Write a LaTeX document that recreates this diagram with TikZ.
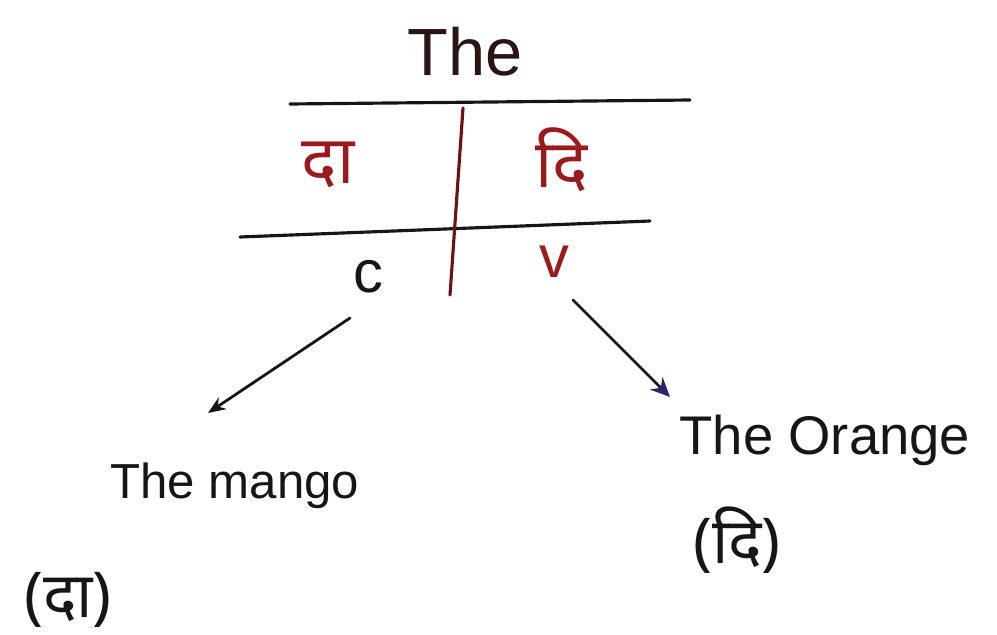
\documentclass[tikz,border=0pt]{standalone}
\usepackage{fontspec}
\setmainfont{Liberation Sans}
\newfontfamily\devfont[Script=Devanagari]{Noto Sans}
\usetikzlibrary{positioning, arrows.meta}
\definecolor{inkred}{HTML}{9A1B1E}
\definecolor{inkdark}{HTML}{2A1414}
\definecolor{inkblack}{HTML}{161616}
\definecolor{inknavy}{HTML}{2B2468}

\begin{document}
\begin{tikzpicture}[x=0.02cm, y=-0.02cm, >=Stealth,
        rule/.style={draw=inkblack, line width=1.8pt, line cap=round},
        hdr/.style={font=\fontsize{38}{42}\selectfont, text=inkdark, inner sep=0},
        dev/.style={font=\devfont\fontsize{38}{42}\selectfont, text=inkred, inner sep=0},
        sym/.style={font=\fontsize{34}{38}\selectfont, inner sep=0},
        lbl/.style={font=\fontsize{28}{32}\selectfont, text=inkblack, inner sep=0},
        devlbl/.style={font=\devfont\fontsize{36}{40}\selectfont, text=inkblack, inner sep=0},
        ptr/.style={->, draw=inkblack, line width=1.6pt, line cap=round}]
        \useasboundingbox (0,0) rectangle (997,635);
        % heading and table
        \node[hdr] (The) at (465,52) {The};
        \coordinate (T1) at (290,104);
        \coordinate (T2) at (690,100);
        \coordinate (M1) at (240,237);
        \coordinate (M2) at (650,221);
        \coordinate (V1) at (463,108);
        \coordinate (V2) at (450,295);
        \draw[rule] (T1) -- (T2);
        \draw[rule] (M1) -- (M2);
        \draw[rule, draw=inkred!70!black] (V1) -- (V2);
        \node[dev] (Da) at (328,165) {दा};
        \node[dev] (Di) at (562,160) {दि};
        \node[sym, text=inkblack] (C) at (368,277) {c};
        \node[sym, text=inkred] (V) at (554,262) {v};
        % pointers
        \coordinate (A1) at (350,318);
        \coordinate (A2) at (208,413);
        \coordinate (B1) at (573,300);
        \coordinate (B2) at (670,397);
        \draw[ptr, -{Stealth[length=10pt, width=8pt]}] (A1) -- (A2);
        \draw[ptr, -{Stealth[inknavy, length=11pt, width=10pt]}] (B1) -- (B2);
        % examples
        \node[lbl] (Mango) at (235,486) {The mango};
        \node[devlbl] (MangoDa) at (68,600) {(दा)};
        \node[lbl, font=\fontsize{31}{35}\selectfont] (Orange) at (825,440) {The Orange};
        \node[devlbl] (OrangeDi) at (737,540) {(दि)};
      \end{tikzpicture}
\end{document}
